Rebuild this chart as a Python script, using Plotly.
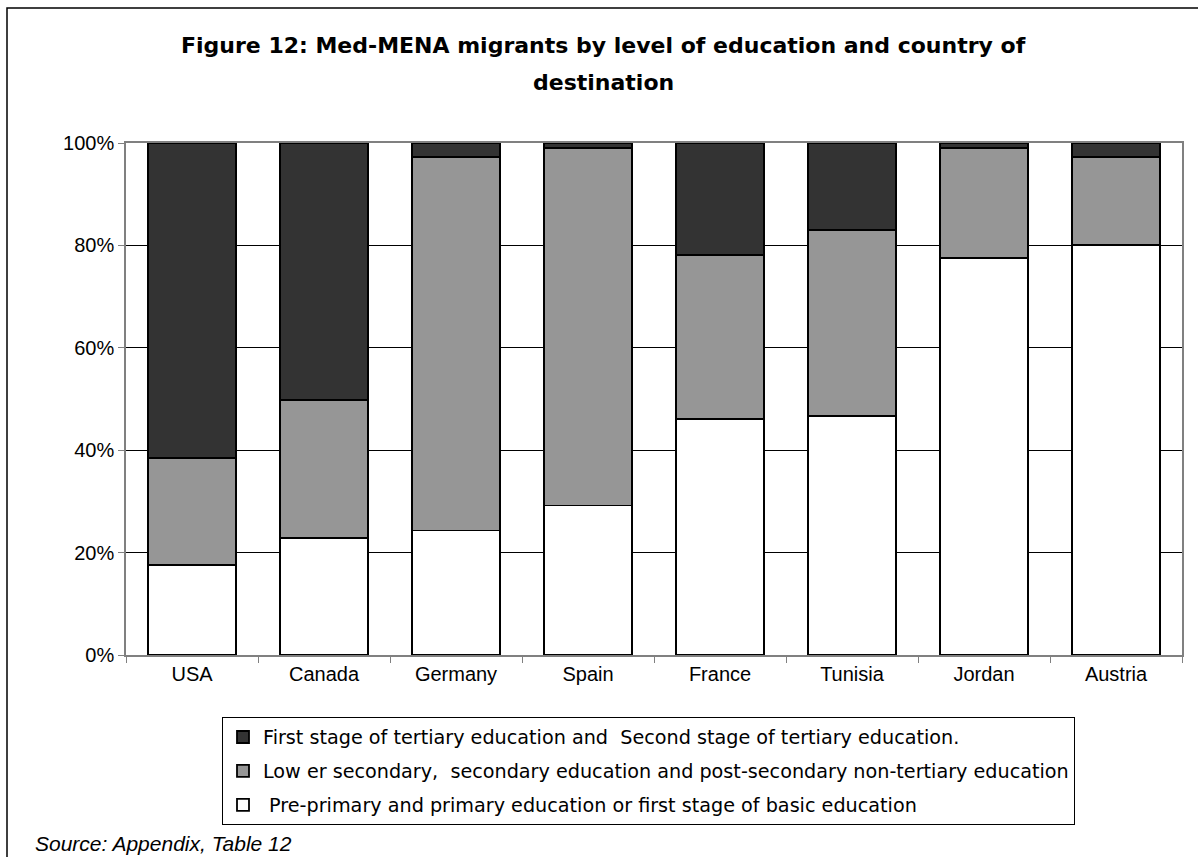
import plotly.graph_objects as go

countries = ["USA", "Canada", "Germany", "Spain", "France", "Tunisia", "Jordan", "Austria"]
primary = [17.6, 22.8, 24.3, 29.2, 46.1, 46.7, 77.5, 80.1]
secondary = [20.9, 27.0, 73.0, 69.9, 32.1, 36.3, 21.6, 17.2]
tertiary = [61.5, 50.2, 2.7, 0.9, 21.8, 17.0, 0.9, 2.7]

names = [
    " Pre-primary and primary education or first stage of basic education",
    "Low er secondary,  secondary education and post-secondary non-tertiary education",
    "First stage of tertiary education and  Second stage of tertiary education.",
]
colors = ["#ffffff", "#969696", "#333333"]
ranks = [3, 2, 1]

font_fam = "Liberation Sans, Arial, sans-serif"
wide_fam = "DejaVu Sans, Verdana, sans-serif"

fig = go.Figure()
for i, (vals, nm, col) in enumerate(zip([primary, secondary, tertiary], names, colors)):
    fig.add_trace(go.Bar(
        x=countries, y=[v / 100 for v in vals], name=nm,
        legendgroup="g%d" % i, legendrank=ranks[i],
        marker=dict(color=col, line=dict(color="#000000", width=1.8)),
    ))

W, H = 1198, 857
L, R, T, B = 126, 16, 143, 202
pw, ph = W - L - R, H - T - B

def px2x(px):
    return (px - L) / pw

def py2y(py):
    return (H - B - py) / ph

fig.update_layout(
    width=W, height=H,
    barmode="stack", bargap=0.333,
    paper_bgcolor="white", plot_bgcolor="white",
    margin=dict(l=L, r=R, t=T, b=B),
    font=dict(family=font_fam, size=20, color="#000000"),
    showlegend=True,
    legend=dict(
        traceorder="grouped",
        tracegroupgap=6,
        x=px2x(222), xanchor="left",
        y=py2y(717), yanchor="top",
        bordercolor="#000000", borderwidth=1,
        bgcolor="white",
        font=dict(family=wide_fam, size=19.2, color="#000000"),
        itemwidth=30,
    ),
    yaxis=dict(
        range=[0, 1], tickformat=".0%", dtick=0.2,
        showgrid=True, gridcolor="#000000", gridwidth=1,
        zeroline=False,
        showline=True, linecolor="#808080", linewidth=1.5, mirror=True,
        ticks="outside", ticklen=6, tickcolor="#808080",
        tickfont=dict(size=20),
    ),
    xaxis=dict(
        showgrid=False,
        showline=True, linecolor="#808080", linewidth=1.5, mirror=True,
        ticks="outside", ticklen=6, tickcolor="#808080",
        tickson="boundaries",
        tickfont=dict(size=20),
    ),
    shapes=[
        dict(type="rect", xref="paper", yref="paper",
             x0=px2x(7), x1=px2x(1240), y0=py2y(900), y1=py2y(8),
             line=dict(color="#000000", width=1.5), fillcolor="rgba(0,0,0,0)",
             layer="below"),
    ],
    annotations=[
        dict(text="<b>Figure 12: Med-MENA migrants by level of education and country of</b>",
             xref="paper", yref="paper", x=px2x(603), y=py2y(45),
             xanchor="center", yanchor="middle", showarrow=False,
             font=dict(family=wide_fam, size=22, color="#000000")),
        dict(text="<b>destination</b>",
             xref="paper", yref="paper", x=px2x(603), y=py2y(82),
             xanchor="center", yanchor="middle", showarrow=False,
             font=dict(family=wide_fam, size=22, color="#000000")),
        dict(text="<i>Source: Appendix, Table 12</i>", xref="paper", yref="paper",
             x=px2x(33), y=py2y(843), xanchor="left", yanchor="middle",
             showarrow=False, font=dict(family=font_fam, size=21, color="#000000")),
    ],
)

fig.write_html("out.html", config={"displayModeBar": False},
               post_script="document.body.style.margin='0px';")
